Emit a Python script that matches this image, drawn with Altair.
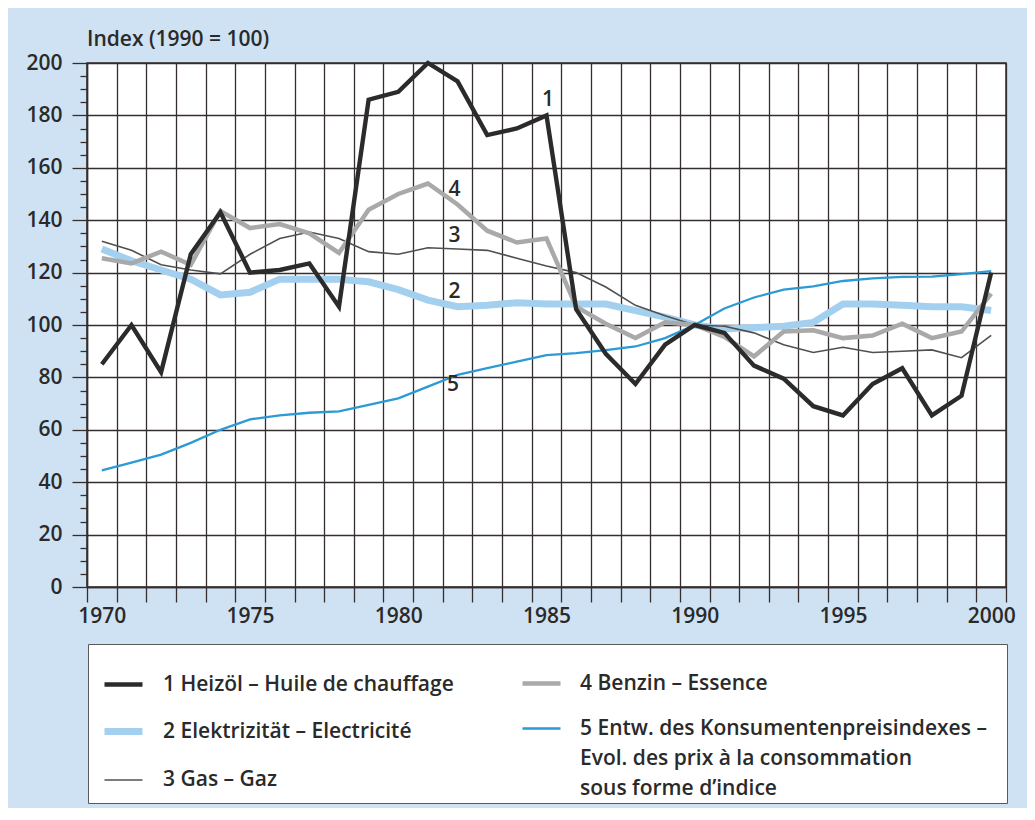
import altair as alt
import pandas as pd

years = list(range(1970, 2001))

series_names = [
    "1 Heizöl – Huile de chauffage",
    "2 Elektrizität – Electricité",
    "3 Gas – Gaz",
    "4 Benzin – Essence",
    "5 Entw. des Konsumentenpreisindexes –|Evol. des prix à la consommation|sous forme d’indice",
]

heizoel = [85, 100, 82, 127, 143, 120, 121, 123.5, 107, 186,
           189, 200, 193, 172.5, 175, 180, 106, 89, 77.5, 92.5,
           100, 97, 84.5, 79.5, 69, 65.5, 77.5, 83.5, 65.5, 73,
           120]
elektrizitaet = [129, 124.5, 121, 117.5, 111.5, 112.5, 117.5, 117.5, 117.5, 116.5,
                 113.5, 109.5, 107, 107.5, 108.5, 108, 108, 108, 105.5, 103,
                 100, 98.5, 99, 99.5, 101, 108, 108, 107.5, 107, 107,
                 105.5]
gas = [132, 128.5, 123, 121, 119.5, 127, 133, 135.5, 133, 128,
       127, 129.5, 129, 128.5, 125.5, 122.5, 120, 114.5, 107.5, 103.5,
       100, 99.5, 97, 92.5, 89.5, 91.5, 89.5, 90, 90.5, 87.5,
       96]
benzin = [125.5, 123.5, 128, 123, 143.5, 137, 138.5, 135, 127.5, 144,
          150, 154, 146, 136, 131.5, 133, 107, 100.5, 95, 101,
          100, 95.5, 88, 97.5, 98, 95, 96, 100.5, 95, 97.5,
          112]
cpi = [44.5, 47.5, 50.5, 55, 60, 64, 65.5, 66.5, 67, 69.5,
       72, 76.5, 81, 83.5, 86, 88.5, 89.3, 90.4, 91.8, 95,
       100, 106.3, 110.5, 113.5, 114.7, 116.8, 117.8, 118.4, 118.5, 119.4,
       120.6]

ann_labels = ["1", "2", "3", "4", "5"]
ann_x = [1985.05, 1981.9, 1981.9, 1981.9, 1981.85]
ann_y = [186, 112.5, 134, 151.5, 77]

colors = ["#2b2b2b", "#a4d0f0", "#505050", "#a9a9a9", "#2b9ad5"]
widths = [4.4, 7, 1.6, 4.5, 2.3]

# drawing order (bottom to top): 2, 5, 3, 4, 1
draw_order = [1, 4, 2, 3, 0]
all_values = [heizoel, elektrizitaet, gas, benzin, cpi]
rows = []
for k in draw_order:
    for yr, v in zip(years, all_values[k]):
        rows.append({"year": yr, "value": v, "series": series_names[k]})
df = pd.DataFrame(rows)

ann_df = pd.DataFrame({"label": ann_labels, "year": ann_x, "value": ann_y})

FONT = "Open Sans"
WEIGHT = 600
FS = 21
TEXT = "#2a2a2a"
GRID = "#342e2e"
NBSP = "\u00a0"
ZWSP = "\u200b"
# invisible spacer used as the legend box title so that the box spans the plot width
BOX_SPACER = ZWSP + NBSP * 859 + ZWSP

half_years = [y - 0.5 for y in years] + [2000.5]
minor_vals = list(range(0, 201, 5))

x_axis = alt.Axis(
    title=None,
    values=half_years,
    labelExpr="(datum.value + 0.5) % 5 == 0 ? format(datum.value + 0.5, 'd') : ''",
    labelOffset=14.8,
    labelOverlap=False,
    labelFlush=False,
    labelBound=False,
    tickSize=15,
    tickColor=GRID,
    tickWidth=1.3,
    domainColor=GRID,
    domainWidth=1.5,
    grid=True,
    gridColor=GRID,
    gridWidth=1.3,
    gridOpacity=1,
    labelFontSize=FS,
    labelFontWeight=WEIGHT,
    labelColor=TEXT,
    labelFont=FONT,
    labelPadding=3,
)
x_scale = alt.Scale(domain=[1969.5, 2000.5], nice=False, zero=False)

y_axis = alt.Axis(
    title=None,
    values=minor_vals,
    labelExpr="datum.value % 20 === 0 ? datum.label : ''",
    tickSize={"condition": {"test": "datum.value % 20 === 0", "value": 15}, "value": 7},
    tickColor=GRID,
    tickWidth=1.3,
    domainColor=GRID,
    domainWidth=1.5,
    grid=True,
    gridColor=GRID,
    gridWidth=1.3,
    gridOpacity={"condition": {"test": "datum.value % 20 === 0", "value": 1}, "value": 0},
    labelFontSize=FS,
    labelFontWeight=WEIGHT,
    labelColor=TEXT,
    labelFont=FONT,
    labelPadding=10,
    labelOverlap=False,
)
y_scale = alt.Scale(domain=[0, 200], nice=False)

X = alt.X("year:Q", scale=x_scale, axis=x_axis)
Y = alt.Y("value:Q", scale=y_scale, axis=y_axis)

# main lines (no legend; z-order follows data order)
lines = alt.Chart(df).mark_line(strokeJoin="miter", strokeCap="butt").encode(
    x=X,
    y=Y,
    color=alt.Color("series:N", scale=alt.Scale(domain=series_names, range=colors), legend=None),
    strokeWidth=alt.StrokeWidth(
        "series:N",
        scale=alt.Scale(type="ordinal", domain=series_names, range=widths),
        legend=None,
    ),
    detail="series:N",
)


def legend_layer(idx, legend):
    names = [series_names[i] for i in idx]
    return alt.Chart(df).transform_filter("false").mark_line().encode(
        x=X,
        y=Y,
        color=alt.Color(
            "series:N",
            scale=alt.Scale(domain=names, range=[colors[i] for i in idx]),
            legend=legend,
        ),
        strokeWidth=alt.StrokeWidth(
            "series:N",
            scale=alt.Scale(type="ordinal", domain=names, range=[widths[i] for i in idx]),
        ),
    )


common = dict(
    orient="none",
    symbolType="stroke",
    symbolSize=1444,
    labelOffset=17,
    labelFontSize=FS,
    labelFontWeight=WEIGHT,
    labelFont=FONT,
    labelColor=TEXT,
    labelLimit=1000,
    rowPadding=14,
)

# left column of the legend, carrying the white box of the whole legend
legend_left = legend_layer(
    [0, 1, 2],
    alt.Legend(
        title=BOX_SPACER,
        titleFontSize=4,
        titleFont=FONT,
        titleFontWeight="normal",
        titleLimit=3000,
        titlePadding=2,
        titleOrient="top",
        legendX=1,
        legendY=581,
        fillColor="white",
        strokeColor="#5a5a5a",
        padding=13,
        **common,
    ),
)

# right column of the legend
legend_right = legend_layer(
    [3, 4],
    alt.Legend(
        title=None,
        legendX=433,
        legendY=599,
        labelExpr="split(datum.label, '|')",
        padding=0,
        **common,
    ),
)

labels = alt.Chart(ann_df).mark_text(
    fontSize=FS, font=FONT, fontWeight=WEIGHT, color=TEXT, align="center", baseline="middle"
).encode(
    x=X,
    y=Y,
    text="label:N",
)

chart = alt.layer(lines, legend_left, legend_right, labels).resolve_scale(
    color="independent", strokeWidth="independent"
).properties(
    width=919,
    height=524,
    padding={"left": 79, "top": 55, "right": 21, "bottom": 221},
    autosize=alt.AutoSizeParams(type="none"),
    background="#cfe2f3",
    title=alt.TitleParams(
        "Index (1990 = 100)",
        anchor="start",
        frame="group",
        fontSize=FS,
        fontWeight=WEIGHT,
        font=FONT,
        color=TEXT,
        offset=2,
    ),
).configure(
    view=alt.ViewConfig(fill="white", stroke=GRID, strokeWidth=1.5),
    style={"guide-label": {"lineHeight": 30}},
)

chart.save("out.html", embed_options={"renderer": "svg", "actions": False})
